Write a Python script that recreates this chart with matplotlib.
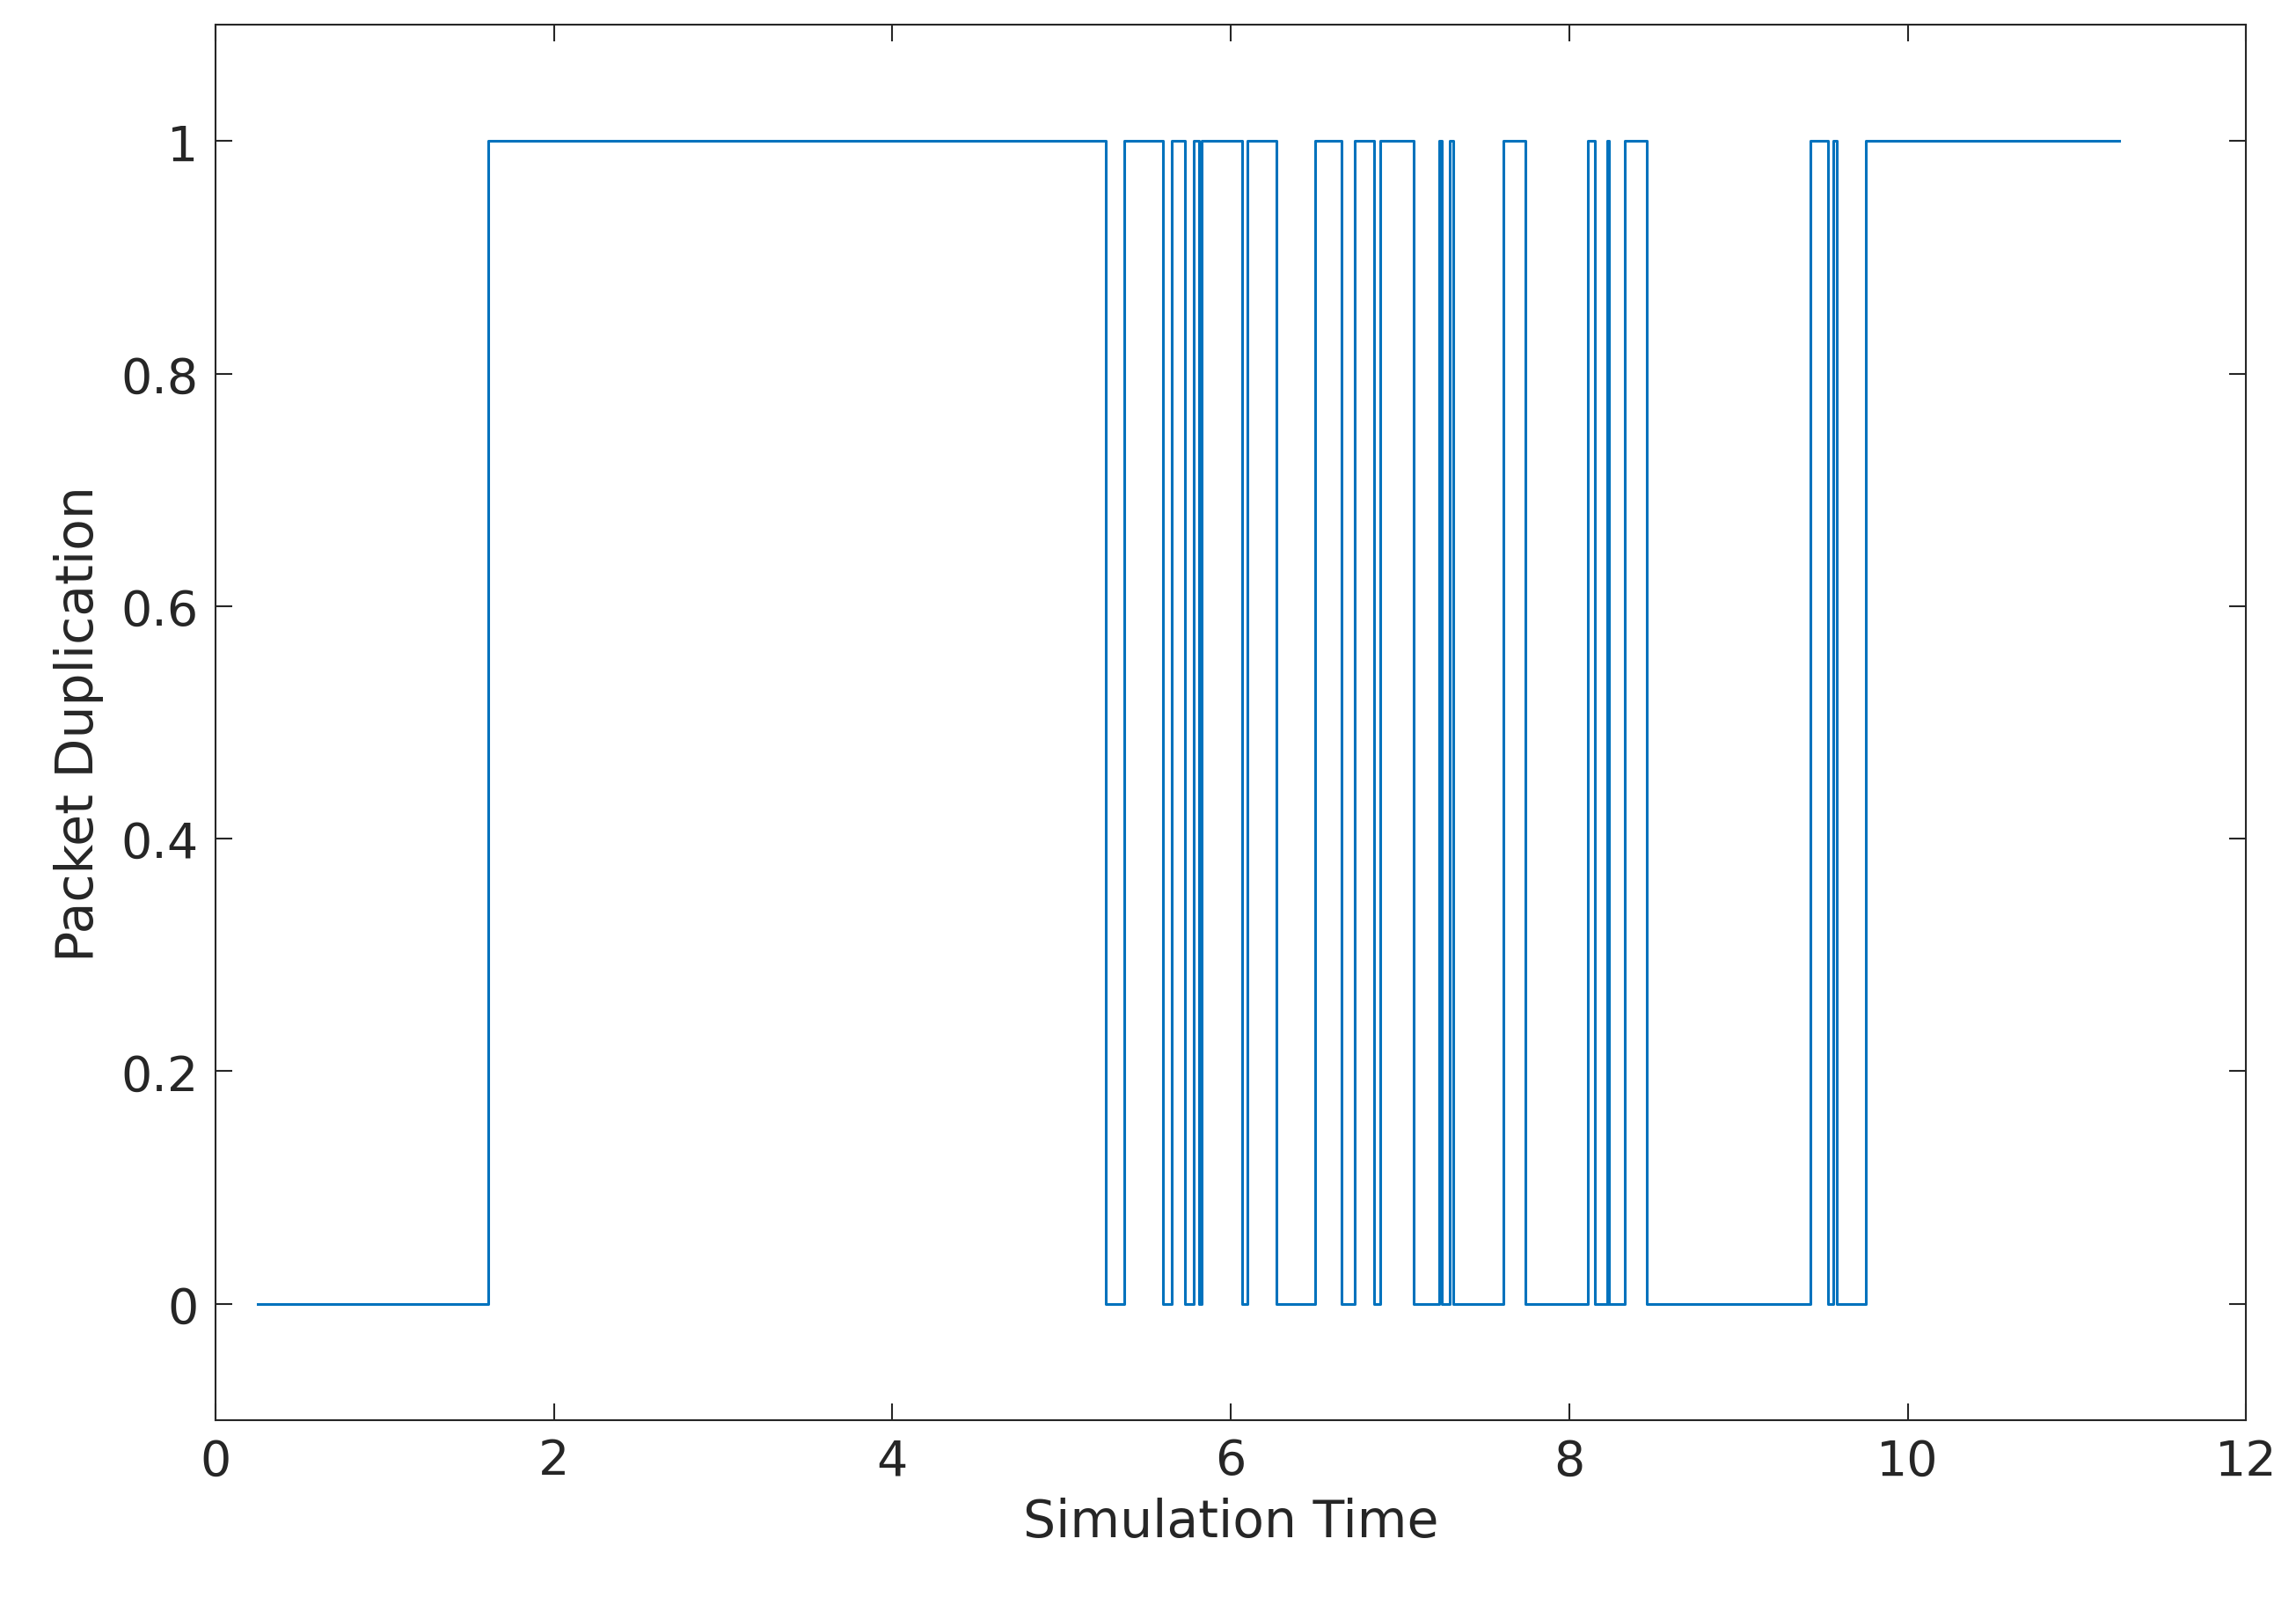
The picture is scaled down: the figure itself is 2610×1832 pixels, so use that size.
import matplotlib
matplotlib.use("Agg")
import matplotlib.pyplot as plt

times = [0.25, 1.61, 5.263, 5.373, 5.601, 5.651, 5.731, 5.781, 5.81, 5.83, 6.069, 6.099,
         6.268, 6.497, 6.656, 6.735, 6.845, 6.884, 7.083, 7.233, 7.248, 7.296, 7.316,
         7.61, 7.74, 8.109, 8.152, 8.222, 8.235, 8.326, 8.456, 9.426, 9.53, 9.56, 9.58,
         9.755, 11.25]
values = [0, 1, 0, 1, 0, 1, 0, 1, 0, 1, 0, 1,
          0, 1, 0, 1, 0, 1, 0, 1, 0, 1, 0,
          1, 0, 1, 0, 1, 0, 1, 0, 1, 0, 1, 0,
          1, 1]
xticks = [0, 2, 4, 6, 8, 10, 12]
yticks = [0, 0.2, 0.4, 0.6, 0.8, 1]
ytick_labels = ["0", "0.2", "0.4", "0.6", "0.8", "1"]

fig = plt.figure(figsize=(26.1, 18.33), dpi=100)
ax = fig.add_axes([0.0938, 0.119, 0.8845, 0.865])
ax.plot(times, values, drawstyle="steps-post", color="#0072BD", lw=2.2)
ax.set_xlim(0, 12)
ax.set_ylim(-0.1, 1.1)
ax.set_xticks(xticks)
ax.set_yticks(yticks)
ax.set_yticklabels(ytick_labels)
ax.tick_params(direction="in", length=14, width=1.5, labelsize=40, colors="#262626",
               top=True, right=True, pad=14)
for s in ax.spines.values():
    s.set_linewidth(1.5)
    s.set_color("#262626")
ax.set_xlabel("Simulation Time", fontsize=42, color="#262626", labelpad=10)
ax.set_ylabel("Packet Duplication", fontsize=42, color="#262626", labelpad=14)
fig.savefig("out.png", dpi=100)
